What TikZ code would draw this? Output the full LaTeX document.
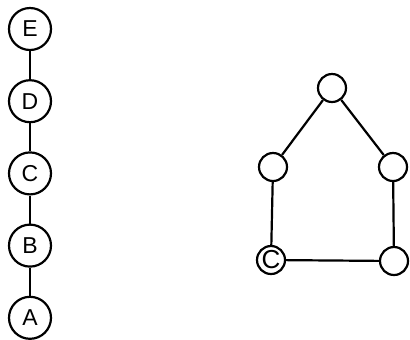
\documentclass[tikz,border=0pt]{standalone}
\usepackage{fontspec}
\setmainfont{Liberation Sans}
\usetikzlibrary{positioning}

\begin{document}
\begin{tikzpicture}[
  x=0.5pt, y=-0.5pt,
  font=\fontsize{11.5}{12}\selectfont,
  big/.style={draw, circle, line width=1.1pt, minimum size=21pt, inner sep=0pt},
  small/.style={draw, circle, line width=1.1pt, minimum size=14pt, inner sep=0pt},
  edge/.style={line width=1.1pt},
  node distance=14pt]

  \useasboundingbox (0,0) rectangle (410,339);

  % chain
  \node[big] (e) at (30,29) {E};
  \node[big, below=of e] (d) {D};
  \node[big, below=of d] (c) {C};
  \node[big, below=of c] (b) {B};
  \node[big, below=of b] (a) {A};
  \draw[edge] (e) -- (d) -- (c) -- (b) -- (a);

  % house
  \node[small] (top) at (332,88) {};
  \node[small] (lm) at (273,167) {};
  \node[small] (rm) at (393,167) {};
  \node[small, font=\fontsize{13}{13}\selectfont] (bl) at (271,260) {C};
  \node[small] (br) at (394,261) {};
  \draw[edge] (bl) -- (lm) -- (top) -- (rm) -- (br) -- (bl);
\end{tikzpicture}
\end{document}
